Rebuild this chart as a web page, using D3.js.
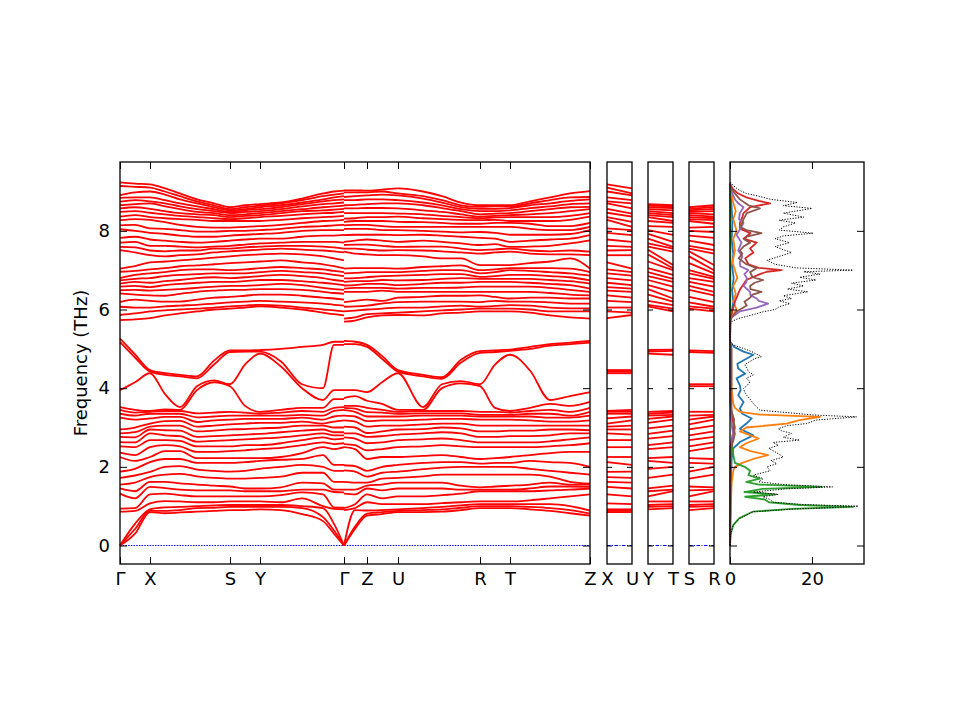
<!DOCTYPE html>
<html>
<head>
<meta charset="utf-8">
<script src="https://cdn.jsdelivr.net/npm/d3@7"></script>
<style>
  body { margin: 0; background: #fff; }
  svg { display: block; font-family: "DejaVu Sans", sans-serif; }
</style>
</head>
<body>
<svg id="chart" width="960" height="720"></svg>
<script>
// ---- data ----
const freqTicks = [0, 2, 4, 6, 8];
const mainLabels = ['Γ', 'X', 'S', 'Y', 'Γ', 'Z', 'U', 'R', 'T', 'Z'];
const mainLabelK = [0, 0.30, 1.10, 1.40, 2.24, 2.47, 2.78, 3.60, 3.90, 4.70];

// k-points sampled along the two continuous pieces of the main path
const kPiece1 = [0, 0.15, 0.30, 0.45, 0.60, 0.77, 0.94, 1.10, 1.25, 1.40, 1.61, 1.82, 2.03, 2.14, 2.24];
const kPiece2 = [2.24, 2.35, 2.47, 2.62, 2.78, 3.03, 3.22, 3.41, 3.60, 3.75, 3.90, 4.10, 4.30, 4.50, 4.70];

// acoustic + low optical branches (THz), one row per k-point
const lowPiece1 = [
  [0,0,0,0.86,0.94,1.32,1.45,1.55,1.72,1.88,2.25,2.36,2.52,2.63,2.76,2.85,2.95,3.25,3.35,3.45,3.52,3.95,5.17,5.26],
  [0.3,0.42,0.55,0.88,0.95,1.2,1.38,1.6,1.78,1.95,2.15,2.3,2.5,2.62,2.75,2.88,3.0,3.2,3.3,3.38,3.45,4.15,4.78,4.86],
  [0.85,0.88,0.92,1.07,1.3,1.49,1.62,1.74,1.87,2.12,2.25,2.5,2.68,2.85,2.95,3.02,3.1,3.23,3.35,3.4,3.42,4.38,4.42,4.46],
  [0.82,0.88,0.97,1.13,1.32,1.46,1.62,1.8,2.0,2.2,2.4,2.55,2.68,2.8,2.93,3.05,3.16,3.27,3.35,3.42,3.46,3.85,4.34,4.38],
  [0.84,0.9,0.98,1.12,1.28,1.42,1.58,1.82,2.02,2.2,2.4,2.52,2.66,2.78,2.92,3.05,3.17,3.27,3.35,3.42,3.45,3.52,4.3,4.34],
  [0.86,0.95,1.0,1.1,1.25,1.4,1.55,1.76,1.93,2.1,2.22,2.38,2.52,2.64,2.76,2.9,3.02,3.14,3.26,3.36,3.95,4.05,4.25,4.3],
  [0.88,0.96,1.02,1.1,1.25,1.4,1.52,1.72,1.9,2.1,2.22,2.38,2.52,2.66,2.78,2.92,3.05,3.18,3.28,3.38,4.15,4.2,4.6,4.7],
  [0.9,0.98,1.03,1.12,1.25,1.4,1.5,1.7,1.88,2.1,2.22,2.4,2.52,2.68,2.8,2.95,3.08,3.2,3.3,3.4,4.05,4.1,4.92,4.96],
  [0.9,0.98,1.03,1.12,1.25,1.38,1.45,1.7,1.9,2.12,2.22,2.42,2.55,2.7,2.82,2.96,3.1,3.22,3.3,3.38,3.55,4.6,4.93,4.96],
  [0.92,0.98,1.03,1.12,1.25,1.38,1.45,1.72,1.95,2.15,2.22,2.45,2.55,2.72,2.84,2.98,3.12,3.22,3.3,3.35,3.4,4.88,4.93,4.97],
  [0.9,0.98,1.03,1.1,1.28,1.38,1.48,1.75,2.0,2.18,2.25,2.48,2.6,2.75,2.88,3.0,3.12,3.22,3.3,3.38,3.45,4.55,4.68,5.0],
  [0.8,0.95,1.0,1.2,1.35,1.42,1.6,1.85,2.05,2.2,2.35,2.55,2.68,2.8,2.92,3.05,3.15,3.25,3.32,3.42,3.5,4.0,4.1,5.05],
  [0.62,0.72,0.95,1.0,1.3,1.42,1.58,1.85,2.0,2.3,2.5,2.62,2.75,2.85,2.95,3.05,3.1,3.2,3.3,3.4,3.5,3.7,4.0,5.1],
  [0.3,0.38,0.55,0.93,0.97,1.36,1.42,1.62,1.9,2.05,2.45,2.58,2.7,2.8,2.88,3.0,3.15,3.28,3.42,3.5,3.72,3.95,5.1,5.18],
  [0,0,0,0.92,0.96,1.35,1.42,1.62,1.9,2.05,2.5,2.6,2.72,2.8,2.88,3.0,3.18,3.3,3.45,3.52,3.72,3.95,5.1,5.18]
];
const lowPiece2 = [
  [0,0,0,0.9,0.95,1.32,1.42,1.62,1.91,2.04,2.5,2.58,2.75,2.85,3.02,3.18,3.3,3.44,3.5,3.55,3.75,3.95,5.12,5.2],
  [0.42,0.48,0.9,0.95,1.05,1.3,1.42,1.6,1.88,2.02,2.45,2.55,2.72,2.85,3.0,3.15,3.28,3.4,3.48,3.55,3.8,3.95,5.12,5.18],
  [0.76,0.81,0.89,1.1,1.3,1.45,1.52,1.6,1.75,1.9,2.2,2.42,2.6,2.76,2.86,3.02,3.16,3.28,3.39,3.5,3.68,3.9,5.05,5.1],
  [0.8,0.85,0.9,1.05,1.2,1.4,1.55,1.7,1.85,2.0,2.25,2.45,2.62,2.78,2.9,3.05,3.18,3.28,3.38,3.45,3.6,4.15,4.75,4.82],
  [0.85,0.88,0.92,1.05,1.25,1.45,1.6,1.72,1.88,2.05,2.25,2.5,2.68,2.82,2.95,3.05,3.18,3.28,3.35,3.4,3.45,4.38,4.42,4.46],
  [0.85,0.9,0.95,1.05,1.25,1.45,1.6,1.76,1.94,2.1,2.28,2.52,2.7,2.85,2.96,3.08,3.2,3.3,3.36,3.42,3.45,3.52,4.3,4.34],
  [0.86,0.92,0.98,1.08,1.28,1.45,1.6,1.8,1.98,2.12,2.3,2.55,2.72,2.88,3.0,3.1,3.22,3.3,3.36,3.42,4.0,4.1,4.24,4.28],
  [0.9,0.96,1.02,1.1,1.32,1.42,1.52,1.8,2.0,2.12,2.25,2.52,2.68,2.85,2.98,3.1,3.22,3.3,3.36,3.42,4.12,4.18,4.65,4.72],
  [0.95,1.0,1.05,1.12,1.38,1.42,1.48,1.8,2.0,2.08,2.2,2.5,2.62,2.76,2.9,3.05,3.2,3.28,3.32,3.4,4.05,4.1,4.9,4.94],
  [0.95,1.0,1.05,1.12,1.38,1.42,1.5,1.8,2.0,2.1,2.22,2.5,2.62,2.76,2.9,3.05,3.2,3.28,3.32,3.4,3.5,4.6,4.92,4.96],
  [0.95,1.0,1.05,1.12,1.38,1.42,1.52,1.8,2.0,2.1,2.25,2.5,2.62,2.78,2.92,3.05,3.2,3.28,3.32,3.38,3.42,4.85,4.95,4.98],
  [0.92,0.98,1.05,1.15,1.38,1.45,1.55,1.8,1.95,2.15,2.3,2.5,2.62,2.78,2.92,3.05,3.18,3.28,3.35,3.42,3.5,4.45,5.0,5.05],
  [0.88,0.95,1.05,1.2,1.4,1.5,1.6,1.75,1.9,2.12,2.35,2.52,2.65,2.8,2.95,3.05,3.15,3.25,3.35,3.45,3.6,3.7,5.08,5.12],
  [0.82,0.9,1.0,1.25,1.42,1.5,1.55,1.62,1.85,2.1,2.38,2.55,2.7,2.85,2.95,3.05,3.15,3.25,3.3,3.4,3.55,3.8,5.12,5.16],
  [0.76,0.81,0.89,1.3,1.45,1.49,1.55,1.57,1.8,2.0,2.38,2.6,2.75,2.85,2.93,3.05,3.18,3.3,3.4,3.5,3.65,3.9,5.16,5.2]
];

// high optical branches (THz)
const highPiece1 = [
  [5.73,5.86,6.07,6.19,6.41,6.49,6.58,6.66,6.74,6.8,6.96,7.04,7.51,7.59,7.7,7.82,8.04,8.14,8.27,8.36,8.48,8.57,8.65,8.74,8.84,8.91,9.14,9.23],
  [5.75,5.9,6.05,6.25,6.38,6.5,6.6,6.7,6.78,6.88,6.98,7.1,7.45,7.58,7.72,7.85,8.0,8.15,8.3,8.4,8.5,8.6,8.68,8.78,8.85,8.98,9.12,9.2],
  [5.78,5.95,6.05,6.22,6.36,6.48,6.57,6.68,6.8,6.92,7.02,7.2,7.38,7.5,7.62,7.78,7.95,8.06,8.28,8.35,8.46,8.56,8.7,8.75,8.85,9.0,9.1,9.18],
  [5.85,5.98,6.08,6.2,6.35,6.5,6.62,6.72,6.85,6.95,7.05,7.22,7.35,7.48,7.62,7.75,7.92,8.05,8.22,8.32,8.42,8.5,8.62,8.7,8.78,8.92,9.0,9.08],
  [5.9,6.0,6.1,6.2,6.4,6.52,6.65,6.75,6.88,7.0,7.1,7.25,7.38,7.5,7.6,7.72,7.88,8.02,8.15,8.3,8.38,8.45,8.55,8.62,8.7,8.8,8.88,8.95],
  [5.95,6.02,6.12,6.25,6.45,6.55,6.68,6.8,6.9,7.02,7.12,7.28,7.4,7.5,7.58,7.7,7.85,7.98,8.1,8.28,8.35,8.42,8.48,8.55,8.62,8.7,8.75,8.8],
  [6.0,6.05,6.15,6.3,6.48,6.58,6.7,6.82,6.92,7.02,7.15,7.32,7.45,7.55,7.6,7.72,7.85,7.98,8.08,8.25,8.32,8.4,8.45,8.5,8.55,8.6,8.65,8.7],
  [6.02,6.08,6.18,6.32,6.5,6.6,6.7,6.8,6.92,7.0,7.18,7.35,7.48,7.55,7.62,7.75,7.88,8.0,8.08,8.25,8.3,8.35,8.4,8.45,8.48,8.52,8.55,8.6],
  [6.05,6.1,6.2,6.35,6.5,6.6,6.72,6.82,6.92,7.02,7.2,7.38,7.5,7.58,7.65,7.78,7.9,8.0,8.1,8.25,8.32,8.38,8.42,8.48,8.52,8.55,8.6,8.65],
  [6.08,6.12,6.22,6.38,6.52,6.62,6.75,6.85,6.95,7.05,7.22,7.4,7.52,7.6,7.68,7.8,7.92,8.02,8.12,8.25,8.35,8.4,8.45,8.5,8.55,8.6,8.64,8.68],
  [6.05,6.1,6.2,6.38,6.52,6.65,6.75,6.88,6.98,7.08,7.25,7.42,7.55,7.62,7.7,7.8,7.95,8.05,8.15,8.28,8.38,8.45,8.5,8.55,8.6,8.65,8.7,8.72],
  [6.0,6.05,6.18,6.35,6.5,6.62,6.72,6.85,6.95,7.05,7.2,7.4,7.52,7.62,7.72,7.85,8.0,8.1,8.2,8.32,8.42,8.5,8.55,8.62,8.68,8.72,8.78,8.82],
  [5.92,6.0,6.15,6.3,6.45,6.55,6.68,6.8,6.92,7.02,7.15,7.35,7.5,7.6,7.72,7.88,8.02,8.12,8.25,8.35,8.45,8.52,8.6,8.68,8.75,8.8,8.88,8.95],
  [5.88,5.98,6.12,6.28,6.42,6.52,6.65,6.75,6.88,6.98,7.1,7.3,7.48,7.58,7.72,7.88,8.02,8.14,8.26,8.36,8.46,8.54,8.62,8.7,8.78,8.85,8.92,9.0],
  [5.85,5.95,6.1,6.25,6.4,6.5,6.62,6.72,6.85,6.95,7.05,7.25,7.45,7.55,7.7,7.9,8.02,8.15,8.28,8.38,8.48,8.56,8.64,8.72,8.8,8.88,8.95,9.02]
];
const highPiece2 = [
  [5.69,5.77,5.95,6.07,6.19,6.45,6.53,6.61,6.7,6.79,6.92,7.04,7.47,7.55,7.64,7.72,7.89,8.05,8.14,8.23,8.31,8.45,8.57,8.65,8.78,8.86,8.98,9.03],
  [5.72,5.8,5.97,6.08,6.22,6.45,6.55,6.62,6.72,6.8,6.93,7.05,7.42,7.55,7.65,7.75,7.9,8.05,8.15,8.25,8.32,8.45,8.57,8.66,8.78,8.88,8.98,9.03],
  [5.8,5.88,6.0,6.1,6.25,6.45,6.55,6.65,6.72,6.82,6.95,7.05,7.4,7.52,7.65,7.78,7.9,8.05,8.15,8.25,8.35,8.45,8.58,8.68,8.8,8.9,8.98,9.02],
  [5.85,5.9,6.02,6.15,6.22,6.48,6.55,6.65,6.75,6.85,6.95,7.05,7.38,7.5,7.62,7.75,7.9,8.02,8.12,8.25,8.35,8.45,8.58,8.7,8.8,8.92,9.0,9.05],
  [5.86,5.92,6.05,6.19,6.3,6.45,6.53,6.62,6.74,6.86,6.95,7.04,7.38,7.51,7.59,7.72,7.89,8.02,8.1,8.23,8.36,8.44,8.57,8.7,8.78,8.9,8.95,9.08],
  [5.85,5.95,6.05,6.2,6.32,6.45,6.55,6.65,6.75,6.88,6.98,7.08,7.35,7.5,7.6,7.75,7.9,8.0,8.1,8.22,8.32,8.42,8.52,8.65,8.72,8.82,8.88,9.0],
  [5.9,5.98,6.08,6.2,6.35,6.45,6.55,6.68,6.78,6.9,7.0,7.1,7.3,7.48,7.6,7.72,7.88,7.98,8.1,8.2,8.3,8.38,8.48,8.58,8.65,8.72,8.78,8.88],
  [5.92,6.0,6.1,6.2,6.35,6.45,6.56,6.68,6.8,6.9,7.0,7.12,7.3,7.45,7.55,7.68,7.85,7.96,8.1,8.18,8.28,8.35,8.42,8.5,8.55,8.6,8.65,8.72],
  [5.95,6.02,6.07,6.19,6.36,6.45,6.58,6.7,6.78,6.83,6.92,7.0,7.13,7.42,7.51,7.64,7.82,7.97,8.1,8.18,8.27,8.32,8.36,8.42,8.5,8.56,8.61,8.65],
  [5.95,6.02,6.09,6.22,6.32,6.45,6.58,6.7,6.78,6.85,6.95,7.02,7.13,7.45,7.53,7.66,7.8,7.95,8.1,8.2,8.28,8.34,8.38,8.44,8.5,8.56,8.62,8.65],
  [5.95,6.02,6.11,6.2,6.28,6.45,6.58,6.7,6.78,6.88,7.0,7.05,7.13,7.47,7.55,7.59,7.72,7.9,8.1,8.2,8.25,8.35,8.4,8.45,8.52,8.58,8.62,8.65],
  [5.92,6.0,6.1,6.2,6.3,6.45,6.58,6.68,6.78,6.88,6.98,7.05,7.18,7.42,7.5,7.6,7.75,7.9,8.05,8.18,8.25,8.35,8.42,8.5,8.58,8.65,8.7,8.75],
  [5.85,5.95,6.05,6.18,6.3,6.42,6.55,6.65,6.75,6.85,6.95,7.05,7.22,7.4,7.48,7.62,7.78,7.9,8.02,8.12,8.25,8.35,8.45,8.55,8.62,8.7,8.78,8.85],
  [5.8,5.95,6.03,6.15,6.28,6.38,6.5,6.62,6.72,6.82,6.92,7.04,7.3,7.4,7.5,7.68,7.8,7.92,8.02,8.12,8.28,8.38,8.5,8.6,8.68,8.76,8.85,8.95],
  [5.77,5.95,6.03,6.15,6.28,6.36,6.45,6.53,6.66,6.74,6.86,6.95,7.04,7.38,7.47,7.76,7.89,8.02,8.1,8.2,8.36,8.45,8.55,8.61,8.7,8.8,8.86,9.01]
];

// short side paths: [label from, label to, row in piece 1, row in piece 2]
const sidePaths = [['X', 'U', 2, 4], ['Y', 'T', 9, 10], ['S', 'R', 7, 8]];

// projected DOS, pairs of [frequency THz, states]
const dosBlue = [[0,0],[1.0,0.1],[1.5,0.2],[2.2,0.4],[2.47,0.8],[2.63,2.4],[2.8,5.7],[2.97,2.4],[3.1,4],[3.23,5.3],[3.35,3],[3.48,2.4],[3.65,3.3],[3.82,2],[3.95,2.6],[4.07,2.4],[4.25,1.6],[4.37,3.7],[4.5,2],[4.62,1.8],[4.75,4],[4.85,5.7],[4.93,3.3],[5.05,1],[5.18,0],[5.7,0],[5.9,0.4],[6.2,0.8],[6.5,0.5],[6.8,0.9],[7.1,0.5],[7.4,0.8],[7.8,0.4],[8.2,0.6],[8.6,0.4],[9.0,0.2],[9.2,0]];
const dosOrange = [[0,0],[1.0,0.2],[1.6,0.4],[1.9,0.8],[2.0,1.2],[2.1,3],[2.2,5.7],[2.3,9.3],[2.4,5],[2.5,2.4],[2.6,4],[2.72,7],[2.8,5],[2.9,2.4],[3.0,4],[3.1,13.8],[3.19,17],[3.27,22],[3.33,7.3],[3.4,2.4],[3.5,1.2],[3.6,0.8],[4.0,0.4],[4.5,0.3],[5.1,0.2],[5.2,0],[5.7,0],[5.85,0.6],[6.0,1.6],[6.2,0.8],[6.4,1.4],[6.6,0.8],[6.8,1.8],[7.0,1.2],[7.2,0.6],[7.5,1.2],[7.8,0.8],[8.0,1.6],[8.3,0.8],[8.5,1.4],[8.8,0.6],[9.1,0.2],[9.2,0]];
const dosGreen = [[0,0],[0.3,0.2],[0.52,0.8],[0.69,2.2],[0.86,5.5],[0.93,15],[0.98,30],[1.03,17],[1.1,9.5],[1.17,8.5],[1.24,3.7],[1.3,11],[1.36,3.5],[1.44,8],[1.49,22.4],[1.55,7],[1.62,4],[1.7,7.3],[1.79,4.5],[1.9,4.9],[2.0,3.6],[2.1,1.2],[2.3,0.8],[2.6,0.5],[3.0,1.2],[3.2,0.8],[3.5,0.2],[4.0,0.1],[5.2,0],[5.7,0],[6.5,0.1],[8.0,0.1],[9.2,0]];
const dosRed = [[0,0],[2.5,0.1],[2.8,0.6],[3.0,1.0],[3.3,0.5],[3.6,0.1],[5.2,0],[5.8,0],[5.9,0.4],[6.2,1.2],[6.5,2.4],[6.75,4],[6.9,7.3],[6.96,9],[7.0,12.6],[7.06,7],[7.15,4.5],[7.3,3.7],[7.45,5.7],[7.55,4.9],[7.7,6.5],[7.8,3.3],[7.94,5],[8.05,2.5],[8.2,2.4],[8.35,3],[8.45,3.3],[8.6,4.9],[8.7,9.8],[8.76,7],[8.85,4],[8.95,2],[9.05,0.8],[9.15,0.2],[9.2,0]];
const dosPurple = [[0,0],[2.4,0.1],[2.8,0.8],[3.0,0.5],[3.3,0.2],[5.2,0],[5.75,0.2],[5.8,0.4],[5.95,2.4],[6.05,6.5],[6.15,9.3],[6.22,7],[6.28,6.5],[6.36,5],[6.45,4.9],[6.6,3.3],[6.7,4],[6.8,4.1],[6.9,3.5],[7.0,4.5],[7.1,2.5],[7.2,2.4],[7.35,3],[7.5,2],[7.7,2.8],[7.9,1.6],[8.05,2.5],[8.2,3.3],[8.3,2.2],[8.45,2.4],[8.6,3.3],[8.7,2],[8.8,1.2],[9.0,0.4],[9.15,0]];
const dosBrown = [[0,0],[2.5,0.3],[2.7,0.9],[2.85,1.2],[3.0,0.8],[3.2,1.0],[3.4,0.4],[3.8,0.3],[4.5,0.4],[5.0,0.4],[5.2,0],[5.75,0],[5.8,0.4],[5.95,1.6],[6.1,4.1],[6.2,3.5],[6.3,4.9],[6.38,5.5],[6.45,7.7],[6.52,5],[6.6,4.9],[6.68,6],[6.75,8.1],[6.82,5.5],[6.95,4.9],[7.05,6.5],[7.15,4],[7.3,2.1],[7.42,3],[7.5,2.4],[7.6,3.3],[7.7,4.9],[7.78,3.5],[7.85,4.1],[7.94,7.7],[8.02,4],[8.1,2.4],[8.2,3],[8.3,3.3],[8.45,4.1],[8.57,7.3],[8.65,4.5],[8.8,2.4],[8.9,1.6],[9.0,0.8],[9.1,0.3],[9.2,0]];
const dosTotal = [[0,0],[0.3,0.2],[0.52,0.8],[0.69,2.4],[0.86,5.7],[0.93,16],[0.96,24],[1.0,31.3],[1.04,18],[1.1,10.5],[1.17,9.8],[1.24,8],[1.3,11.8],[1.36,5.7],[1.44,13.8],[1.49,25],[1.55,13],[1.62,7],[1.7,8.1],[1.79,5.7],[1.9,9.8],[2.0,9],[2.08,11.4],[2.16,10],[2.25,13],[2.32,12],[2.38,11],[2.47,9.5],[2.55,11.8],[2.62,10.5],[2.68,17],[2.75,13],[2.85,15],[2.92,12.5],[2.97,11.8],[3.05,14],[3.1,18.7],[3.19,21],[3.27,30.9],[3.32,20],[3.36,16],[3.44,7.3],[3.52,6.5],[3.61,5.7],[3.72,4.9],[3.82,4.1],[3.9,3.6],[3.99,3.3],[4.08,4.3],[4.17,4.9],[4.25,4],[4.34,5.7],[4.42,4.5],[4.51,4.1],[4.6,3.6],[4.68,4.9],[4.75,6],[4.8,7.7],[4.88,6.2],[4.93,5.3],[5.02,3],[5.1,0.8],[5.18,0],[5.6,0],[5.7,0.5],[5.77,2],[5.85,5],[5.94,8],[6.0,11],[6.07,12],[6.15,14.6],[6.22,12],[6.28,15],[6.35,13],[6.45,19],[6.52,14],[6.6,18],[6.67,15],[6.75,21],[6.82,17],[6.9,22],[6.96,18],[7.0,30],[7.06,16],[7.15,11],[7.25,9],[7.35,12],[7.45,15],[7.52,13],[7.6,11],[7.7,14.5],[7.8,11],[7.87,13],[7.94,20.3],[8.02,12],[8.1,13],[8.2,16],[8.27,12],[8.35,18],[8.45,13],[8.57,20],[8.64,13],[8.72,16.5],[8.8,10],[8.88,7],[8.95,4],[9.05,2],[9.15,0.8],[9.25,0]];
const dosSeries = [
  { color: '#1f77b4', values: dosBlue },
  { color: '#ff7f0e', values: dosOrange },
  { color: '#2ca02c', values: dosGreen },
  { color: '#d62728', values: dosRed },
  { color: '#9467bd', values: dosPurple },
  { color: '#8c564b', values: dosBrown }
];

// ---- layout ----
const plotTop = 162, plotBottom = 564;
const fontSize = 18;
const svg = d3.select('#chart');
const y = d3.scaleLinear().domain([-0.47, 9.75]).range([plotBottom, plotTop]);
const xMain = d3.scaleLinear().domain([0, 4.70]).range([120, 590]);
const sideRanges = [[607, 632], [648, 673], [689, 714]];
const xDos = d3.scaleLinear().domain([0, 32.7]).range([730, 864]);

const bandLine = xs => d3.line()
  .x(d => xs(d[0]))
  .y(d => y(d[1]))
  .curve(d3.curveMonotoneX);

// turn per-k rows into one path per band index
function bandsFrom(knots, rows) {
  const sorted = rows.map(r => d3.sort(r));
  const n = d3.min(sorted, r => r.length);
  return d3.range(n).map(i => knots.map((k, j) => [k, sorted[j][i]]));
}

function drawBands(xs, knots, rows) {
  svg.append('g')
    .selectAll('path')
    .data(bandsFrom(knots, rows))
    .join('path')
    .attr('d', bandLine(xs))
    .attr('fill', 'none')
    .attr('stroke', '#ff0000')
    .attr('stroke-width', 1.8);
}

function zeroLine(x0, x1, dash) {
  svg.append('line')
    .attr('x1', x0).attr('x2', x1)
    .attr('y1', y(0)).attr('y2', y(0))
    .attr('stroke', '#0000ff')
    .attr('stroke-width', 1.2)
    .attr('stroke-dasharray', dash);
}

function frame(x0, x1) {
  svg.append('rect')
    .attr('x', x0).attr('y', plotTop)
    .attr('width', x1 - x0).attr('height', plotBottom - plotTop)
    .attr('fill', 'none')
    .attr('stroke', '#000')
    .attr('stroke-width', 1.3);
}

function styleAxis(g) {
  g.select('.domain').remove();
  g.attr('font-family', '"DejaVu Sans", sans-serif')
    .attr('font-size', fontSize)
    .attr('color', '#000');
  g.selectAll('.tick line').attr('stroke-width', 1);
}

// inward frequency ticks on both sides of a panel
function freqAxes(x0, x1, len, withLabels) {
  const left = svg.append('g')
    .attr('transform', `translate(${x0},0)`)
    .call(d3.axisLeft(y).tickValues(freqTicks).tickSize(-len).tickPadding(10)
      .tickFormat(withLabels ? d3.format('d') : ''));
  styleAxis(left);
  const right = svg.append('g')
    .attr('transform', `translate(${x1},0)`)
    .call(d3.axisRight(y).tickValues(freqTicks).tickSize(-len).tickFormat(''));
  styleAxis(right);
}

// ---- main band panel ----
zeroLine(120, 590, '1.5,1.2');
drawBands(xMain, kPiece1, lowPiece1.map((r, i) => r.concat(highPiece1[i])));
drawBands(xMain, kPiece2, lowPiece2.map((r, i) => r.concat(highPiece2[i])));
freqAxes(120, 590, 7, true);
styleAxis(svg.append('g')
  .attr('transform', `translate(0,${plotTop})`)
  .call(d3.axisTop(xMain).tickValues(mainLabelK).tickSize(-7).tickFormat('')));
styleAxis(svg.append('g')
  .attr('transform', `translate(0,${plotBottom})`)
  .call(d3.axisBottom(xMain).tickValues(mainLabelK).tickSize(-7).tickPadding(8)
    .tickFormat((d, i) => mainLabels[i])));
frame(120, 590);

// ---- side paths ----
sidePaths.forEach(([from, to, r1, r2], i) => {
  const [x0, x1] = sideRanges[i];
  const xs = d3.scaleLinear().domain([0, 1]).range([x0, x1]);
  zeroLine(x0, x1, '3.5,1.5,1,1.5');
  drawBands(xs, [0, 1], [
    lowPiece1[r1].concat(highPiece1[r1]),
    lowPiece2[r2].concat(highPiece2[r2])
  ]);
  freqAxes(x0, x1, 5, false);
  styleAxis(svg.append('g')
    .attr('transform', `translate(0,${plotBottom})`)
    .call(d3.axisBottom(xs).tickValues([0, 1]).tickSize(0).tickPadding(8)
      .tickFormat(d => d === 0 ? from : to)));
  frame(x0, x1);
});

// ---- DOS panel ----
const dosLine = d3.line().x(d => xDos(d[1])).y(d => y(d[0]));
svg.append('g')
  .selectAll('path')
  .data(dosSeries)
  .join('path')
  .attr('d', d => dosLine(d.values))
  .attr('fill', 'none')
  .attr('stroke', d => d.color)
  .attr('stroke-width', 1.8)
  .attr('stroke-linejoin', 'round');
svg.append('path')
  .attr('d', dosLine(dosTotal))
  .attr('fill', 'none')
  .attr('stroke', '#000')
  .attr('stroke-width', 1)
  .attr('stroke-dasharray', '1.2,1.5');
freqAxes(730, 864, 7, false);
styleAxis(svg.append('g')
  .attr('transform', `translate(0,${plotTop})`)
  .call(d3.axisTop(xDos).tickValues([0, 20]).tickSize(-7).tickFormat('')));
styleAxis(svg.append('g')
  .attr('transform', `translate(0,${plotBottom})`)
  .call(d3.axisBottom(xDos).tickValues([0, 20]).tickSize(-7).tickPadding(8)
    .tickFormat(d3.format('d'))));
frame(730, 864);

// ---- y label ----
svg.append('text')
  .attr('transform', 'translate(87,363) rotate(-90)')
  .attr('text-anchor', 'middle')
  .attr('font-size', fontSize)
  .attr('fill', '#000')
  .text('Frequency (THz)');
</script>
</body>
</html>
